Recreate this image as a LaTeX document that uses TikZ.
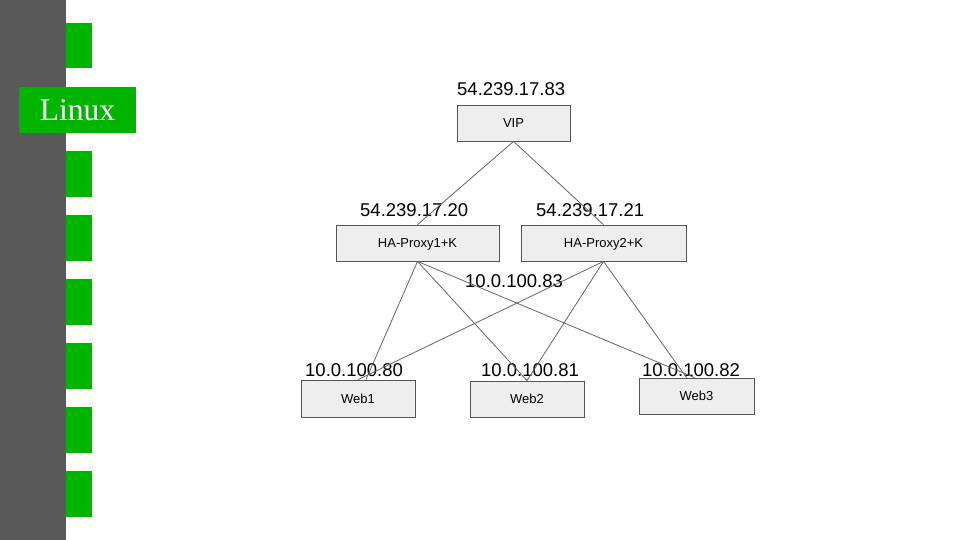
\documentclass[tikz,border=0pt]{standalone}
\usepackage{fontspec}
\setmainfont{Liberation Sans}
\newfontfamily\serifface{Liberation Serif}
\definecolor{sidegray}{RGB}{89,89,89}
\definecolor{slidegreen}{RGB}{0,180,0}
\definecolor{boxfill}{RGB}{238,238,238}
\definecolor{boxline}{RGB}{85,85,85}
\definecolor{wire}{RGB}{102,102,102}
\begin{document}
\begin{tikzpicture}[x=1pt,y=-1pt,
  hostbox/.style={draw=boxline,line width=0.8pt,fill=boxfill,minimum height=36pt,inner sep=0pt,text depth=0pt,font=\fontsize{13}{15}\selectfont},
  iplabel/.style={anchor=base west,inner sep=0pt,font=\fontsize{18.5}{22}\selectfont},
  wireline/.style={draw=wire,line width=0.8pt},
  greensq/.style={fill=slidegreen}]
\useasboundingbox (0,0) rectangle (960,540);
\fill[white] (0,0) rectangle (960,540);
% sidebar
\fill[sidegray] (0,0) rectangle (66,540);
\foreach \yy in {23,87,151,215,279,343,407,471}
  \fill[greensq] (66,\yy) rectangle (92,\yy+45.5);
\node[fill=slidegreen,minimum width=117pt,minimum height=46pt,inner sep=0pt,text=white,font=\serifface\fontsize{31.5}{36}\selectfont] (linux) at (77.5,110) {Linux};
% boxes
\node[hostbox,minimum width=113pt] (vip) at (513.5,123) {VIP};
\node[hostbox,minimum width=163pt] (ha1) at (417.5,243) {HA-Proxy1+K};
\node[hostbox,minimum width=165pt] (ha2) at (603.5,243) {HA-Proxy2+K};
\node[hostbox,minimum width=114pt,minimum height=37pt] (web1) at (358,398.5) {Web1};
\node[hostbox,minimum width=114pt] (web2) at (527,399) {Web2};
\node[hostbox,minimum width=115pt] (web3) at (696.5,396) {Web3};
% labels
\node[iplabel] (ipvip) at (457,96) {54.239.17.83};
\node[iplabel] (ipha1) at (360,216) {54.239.17.20};
\node[iplabel] (ipha2) at (536,216) {54.239.17.21};
\node[iplabel] (ipint) at (465,287) {10.0.100.83};
\node[iplabel] (ipw1) at (305,376) {10.0.100.80};
\node[iplabel] (ipw2) at (481,376) {10.0.100.81};
\node[iplabel] (ipw3) at (642,376) {10.0.100.82};
% connectors
\draw[wireline] (vip.south) -- (ha1.north);
\draw[wireline] (vip.south) -- (ha2.north);
\draw[wireline] (ha1.south) -- ([xshift=8pt]web1.north);
\draw[wireline] (ha1.south) -- (web2.north);
\draw[wireline] (ha1.south) -- ([xshift=-2pt]web3.north);
\draw[wireline] (ha2.south) -- (web1.north);
\draw[wireline] (ha2.south) -- (web2.north);
\draw[wireline] (ha2.south) -- ([xshift=-10pt]web3.north);
\end{tikzpicture}
\end{document}
